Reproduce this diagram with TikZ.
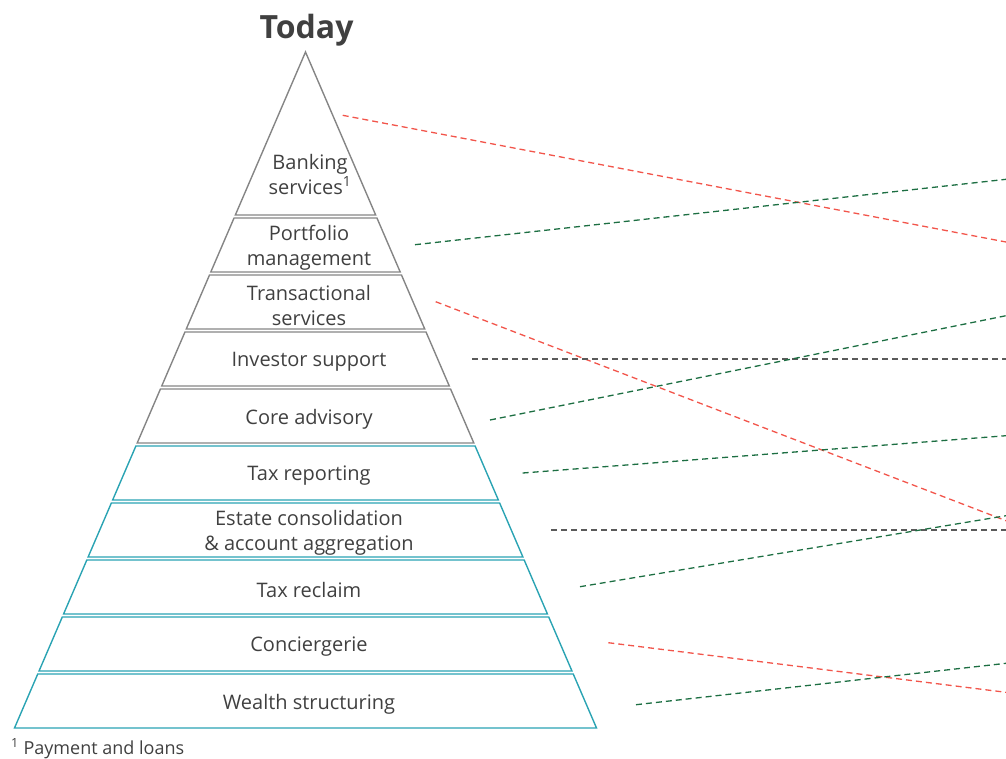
\documentclass[tikz,border=0pt]{standalone}
\usepackage{fontspec}
\setmainfont{Open Sans}
\definecolor{pyrgray}{HTML}{858585}
\definecolor{pyrteal}{HTML}{2AA3B3}
\definecolor{txtgray}{HTML}{404040}
\definecolor{dred}{HTML}{F2554B}
\definecolor{dgreen}{HTML}{1C6E42}
\definecolor{dgray}{HTML}{5A5A5A}
\tikzset{
  layergray/.style={draw=pyrgray, line width=1.4pt, line join=miter},
  layerteal/.style={draw=pyrteal, line width=1.4pt, line join=miter},
  layertext/.style={text=txtgray, font=\fontsize{20}{25}\selectfont, align=center, inner sep=0pt},
  link/.style={line width=1.3pt, dash pattern=on 6pt off 4pt},
  linkred/.style={link, draw=dred},
  linkgreen/.style={link, draw=dgreen},
  linkgray/.style={link, draw=dgray},
}
\newcommand\pyrlayer[5]{%
  \pgfmathsetmacro\layTopW{(#2-52)/676*291}%
  \pgfmathsetmacro\layBotW{(#3-52)/676*291}%
  \draw[#4] (305.5-\layTopW,#2) -- (305.5+\layTopW,#2) -- (305.5+\layBotW,#3) -- (305.5-\layBotW,#3) -- cycle;
  \node[layertext] (#1) at (309,{(#2+#3)/2+3}) {#5};
}
\begin{document}
\begin{tikzpicture}[x=1pt,y=-1pt]
\useasboundingbox (0,0) rectangle (1006,758);
% title
\node[text=txtgray, font=\fontsize{32}{32}\selectfont\bfseries, anchor=base] (title) at (306.5,38) {Today};
% top triangle
\pgfmathsetmacro\triW{(215-52)/676*291}
\draw[layergray] (305.5,52) -- (305.5+\triW,215) -- (305.5-\triW,215) -- cycle;
\node[layertext] (banking) at (310,174) {Banking\\services\textsuperscript{1}};
\pyrlayer{portfolio}{218}{272}{layergray}{Portfolio\\management}
\pyrlayer{transactional}{275}{329}{layergray}{Transactional\\services}
\pyrlayer{investor}{332}{386}{layergray}{Investor support}
\pyrlayer{core}{389}{443}{layergray}{Core advisory}
\pyrlayer{taxrep}{446}{500}{layerteal}{Tax reporting}
\pyrlayer{estate}{503}{557}{layerteal}{Estate consolidation\\\& account aggregation}
\pyrlayer{taxrec}{560}{614}{layerteal}{Tax reclaim}
\pyrlayer{concierge}{617}{671}{layerteal}{Conciergerie}
\pyrlayer{wealth}{674}{728}{layerteal}{Wealth structuring}
% footnote
\node[text=txtgray, font=\fontsize{18}{20}\selectfont, anchor=base west, inner sep=0pt] (foot) at (11,754) {\textsuperscript{1} Payment and loans};
% connector end points
\coordinate (s1) at (342.7,115.3);  \coordinate (e1) at (1006,242);
\coordinate (s2) at (415,244.7);    \coordinate (e2) at (1006,179.3);
\coordinate (s3) at (435.7,301.7);  \coordinate (e3) at (1006,520.7);
\coordinate (s4) at (472,359);      \coordinate (e4) at (1006,359);
\coordinate (s5) at (490,420);      \coordinate (e5) at (1006,315.7);
\coordinate (s6) at (522.7,473);    \coordinate (e6) at (1006,435.7);
\coordinate (s7) at (551.3,530);    \coordinate (e7) at (1006,530);
\coordinate (s8) at (580,586.7);    \coordinate (e8) at (1006,515.7);
\coordinate (s9) at (608.3,642.7);  \coordinate (e9) at (1006,692.3);
\coordinate (s10) at (636,704.7);   \coordinate (e10) at (1006,663.3);
\draw[linkred] (s1) -- (e1);
\draw[linkgreen] (s2) -- (e2);
\draw[linkred] (s3) -- (e3);
\draw[linkgray] (s4) -- (e4);
\draw[linkgreen] (s5) -- (e5);
\draw[linkgreen] (s6) -- (e6);
\draw[linkgray] (s7) -- (e7);
\draw[linkgreen] (s8) -- (e8);
\draw[linkred] (s9) -- (e9);
\draw[linkgreen] (s10) -- (e10);
\end{tikzpicture}
\end{document}
